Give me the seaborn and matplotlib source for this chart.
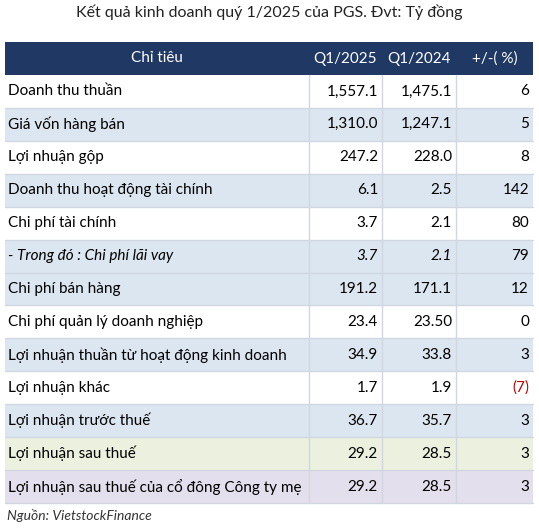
"""
PGS Q1/2025 business results table, drawn as a seaborn/matplotlib figure.
"""

import matplotlib.pyplot as plt
import seaborn as sns

sns.set_style("white")
plt.rcParams["font.family"] = ["Lato", "DejaVu Sans"]

# Data
title = "Kết quả kinh doanh quý 1/2025 của PGS. Đvt: Tỷ đồng"
headers = ["Chỉ tiêu", "Q1/2025", "Q1/2024", "+/-( %)"]
items = [
    "Doanh thu thuần",
    "Giá vốn hàng bán",
    "Lợi nhuận gộp",
    "Doanh thu hoạt động tài chính",
    "Chi phí tài chính",
    "- Trong đó : Chi phí lãi vay",
    "Chi phí bán hàng",
    "Chi phí quản lý doanh nghiệp",
    "Lợi nhuận thuần từ hoạt động kinh doanh",
    "Lợi nhuận khác",
    "Lợi nhuận trước thuế",
    "Lợi nhuận sau thuế",
    "Lợi nhuận sau thuế của cổ đông Công ty mẹ",
]
q1_2025 = ["1,557.1", "1,310.0", "247.2", "6.1", "3.7", "3.7", "191.2",
           "23.4", "34.9", "1.7", "36.7", "29.2", "29.2"]
q1_2024 = ["1,475.1", "1,247.1", "228.0", "2.5", "2.1", "2.1", "171.1",
           "23.50", "33.8", "1.9", "35.7", "28.5", "28.5"]
change = ["6", "5", "8", "142", "80", "79", "12", "0", "3", "(7)", "3", "3", "3"]
source = "Nguồn: VietstockFinance"

# Styling
W, H = 539, 529
header_color = "#1f3864"
row_colors = ["white", "#dce6f1", "white", "#dce6f1", "white", "#dce6f1",
              "#dce6f1", "white", "#dce6f1", "white", "#dce6f1",
              "#ebf1de", "#e4dfec"]
col_edges = [5, 309, 382, 456, 533]
header_top, header_bot = 42, 75
row_h = (503 - header_bot) / len(items)

fig = plt.figure(figsize=(W / 100, H / 100), dpi=100)
ax = fig.add_axes([0, 0, 1, 1])
ax.set_xlim(0, W)
ax.set_ylim(H, 0)
ax.axis("off")

ax.text(W / 2, 12, title, ha="center", va="center", fontsize=11.5, color="#222222")

# Header
ax.add_patch(plt.Rectangle((col_edges[0], header_top), col_edges[-1] - col_edges[0],
                           header_bot - header_top, color=header_color, lw=0))
hy = (header_top + header_bot) / 2
ax.text((col_edges[0] + col_edges[1]) / 2, hy, headers[0], ha="center", va="center",
        color="white", fontsize=11)
for j in range(1, 4):
    ax.text((col_edges[j] + col_edges[j + 1]) / 2, hy, headers[j], ha="center",
            va="center", color="white", fontsize=11)

# Rows
for i, name in enumerate(items):
    top = header_bot + i * row_h
    cy = top + row_h / 2
    ax.add_patch(plt.Rectangle((col_edges[0], top), col_edges[-1] - col_edges[0],
                               row_h, facecolor=row_colors[i], edgecolor="none"))
    ax.plot([col_edges[0], col_edges[-1]], [top + row_h, top + row_h],
            color="#d0d7e0", lw=1)
    style = "italic" if name.startswith("- Trong") else "normal"
    ax.text(col_edges[0] + 3, cy, name, ha="left", va="center", fontsize=11,
            style=style, color="black")
    for j, val in enumerate([q1_2025[i], q1_2024[i], change[i]], start=1):
        color = "#c00000" if val.startswith("(") else "black"
        ax.text(col_edges[j + 1] - 4, cy, val, ha="right", va="center", fontsize=11,
                style=style if j < 3 else "normal", color=color)

# Column separators
for x in col_edges[1:-1]:
    ax.plot([x, x], [header_bot, 503], color="#d0d7e0", lw=1)

ax.text(col_edges[0] + 2, 516, source, ha="left", va="center", fontsize=10,
        style="italic", color="#333333")

fig.savefig("out.png", dpi=100)
